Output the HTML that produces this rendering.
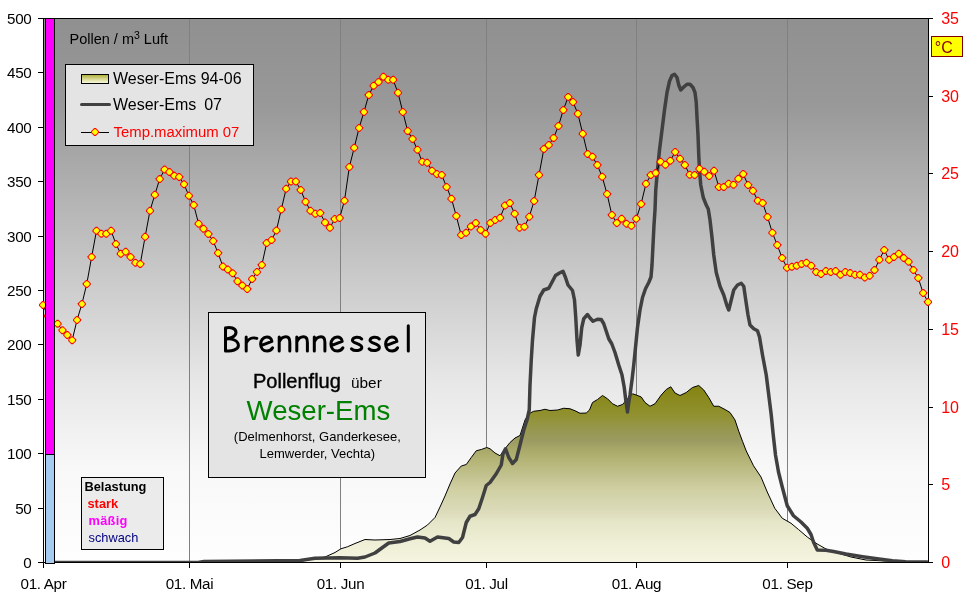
<!DOCTYPE html>
<html><head><meta charset="utf-8"><title>Brennnessel Pollenflug Weser-Ems</title>
<style>
html,body{margin:0;padding:0;background:#fff;}
body{width:968px;height:602px;overflow:hidden;font-family:"Liberation Sans",sans-serif;}
svg{display:block;font-family:"Liberation Sans",sans-serif;will-change:transform;}
</style></head><body>
<svg width="968" height="602" viewBox="0 0 968 602">
<defs>
<linearGradient id="bg" x1="0" y1="18" x2="0" y2="562" gradientUnits="userSpaceOnUse">
<stop offset="0.0000" stop-color="#909090"/>
<stop offset="0.0772" stop-color="#949494"/>
<stop offset="0.1636" stop-color="#999999"/>
<stop offset="0.4908" stop-color="#cccccc"/>
<stop offset="0.6746" stop-color="#e8e8e8"/>
<stop offset="0.8272" stop-color="#f8f8f8"/>
<stop offset="1.0000" stop-color="#fefefe"/>
</linearGradient>
<linearGradient id="ol" x1="0" y1="385" x2="0" y2="562" gradientUnits="userSpaceOnUse">
<stop offset="0.0000" stop-color="#84840f"/>
<stop offset="0.0847" stop-color="#8a8a20"/>
<stop offset="0.1695" stop-color="#919130"/>
<stop offset="0.2260" stop-color="#969646"/>
<stop offset="0.2712" stop-color="#989855"/>
<stop offset="0.3164" stop-color="#9b9b62"/>
<stop offset="0.3672" stop-color="#a9a969"/>
<stop offset="0.4237" stop-color="#b4b476"/>
<stop offset="0.5198" stop-color="#c3c392"/>
<stop offset="0.5932" stop-color="#d0d0a4"/>
<stop offset="0.7006" stop-color="#dadab8"/>
<stop offset="0.7740" stop-color="#e5e5c8"/>
<stop offset="0.9040" stop-color="#f0f0d8"/>
<stop offset="1.0000" stop-color="#f4f4e0"/>
</linearGradient>
<linearGradient id="sw" x1="0" y1="0" x2="0" y2="1">
<stop offset="0" stop-color="#aaaa32"/>
<stop offset="0.5" stop-color="#d8d890"/>
<stop offset="1" stop-color="#fafae6"/>
</linearGradient>
<clipPath id="pc"><rect x="44" y="19" width="884" height="543"/></clipPath>
<g id="m"><polygon points="-0.8,-4 0.8,-4 4,-0.8 4,0.8 0.8,4 -0.8,4 -4,0.8 -4,-0.8" fill="#ff0000"/><polygon points="-0.7,-2.8 0.7,-2.8 2.8,-0.7 2.8,0.7 0.7,2.8 -0.7,2.8 -2.8,0.7 -2.8,-0.7" fill="#ffff00"/></g>
</defs>
<rect x="0" y="0" width="968" height="602" fill="#fff"/>
<!-- plot area -->
<rect x="44" y="19" width="884" height="543" fill="url(#bg)"/>
<g shape-rendering="crispEdges"><line x1="189.5" y1="19" x2="189.5" y2="562" stroke="#808080" stroke-width="1"/><line x1="340.5" y1="19" x2="340.5" y2="562" stroke="#808080" stroke-width="1"/><line x1="486.5" y1="19" x2="486.5" y2="562" stroke="#808080" stroke-width="1"/><line x1="636.5" y1="19" x2="636.5" y2="562" stroke="#808080" stroke-width="1"/><line x1="787.5" y1="19" x2="787.5" y2="562" stroke="#808080" stroke-width="1"/></g>
<!-- area series -->
<polygon points="300.00,561.50 307.50,560.00 325.00,557.00 335.00,552.50 341.00,548.75 347.50,546.75 355.00,543.50 365.00,539.50 375.00,540.00 390.00,539.50 400.00,538.50 410.00,535.50 420.00,530.00 427.50,525.00 435.00,517.50 440.00,507.00 445.00,496.00 450.00,484.00 455.00,473.00 461.25,466.00 466.25,464.50 471.25,457.50 476.25,450.75 481.25,449.50 486.75,447.50 490.00,448.75 495.00,453.00 500.00,455.75 505.00,448.75 510.00,442.50 515.00,438.00 520.00,435.50 525.00,420.00 528.75,413.75 533.75,411.25 540.00,410.50 545.00,409.25 550.00,410.50 557.50,410.00 563.75,408.25 570.00,408.75 575.00,410.75 580.00,413.25 586.25,413.00 589.50,410.00 592.50,402.50 597.50,399.50 602.50,395.50 607.50,398.75 612.50,403.75 617.50,406.25 622.50,404.50 627.50,398.75 632.50,393.75 636.25,395.00 641.25,397.00 645.00,402.50 650.00,406.25 655.00,403.75 661.25,395.00 666.25,389.50 670.75,386.75 675.00,393.00 680.00,395.50 686.25,392.50 692.50,387.50 698.75,385.50 703.75,390.00 708.75,397.50 713.75,406.25 718.75,406.25 725.00,409.50 730.00,412.50 735.00,420.00 738.75,431.25 742.50,441.25 746.25,451.00 753.50,465.75 761.00,477.00 767.25,492.00 774.75,508.25 782.25,518.25 791.00,523.25 798.50,529.50 807.25,537.00 816.00,543.25 826.00,549.00 838.50,553.25 851.00,557.00 866.00,560.00 886.00,561.00 901.00,561.50 928.00,562.00 928,562 300,562" fill="url(#ol)"/>
<polyline points="300.00,561.50 307.50,560.00 325.00,557.00 335.00,552.50 341.00,548.75 347.50,546.75 355.00,543.50 365.00,539.50 375.00,540.00 390.00,539.50 400.00,538.50 410.00,535.50 420.00,530.00 427.50,525.00 435.00,517.50 440.00,507.00 445.00,496.00 450.00,484.00 455.00,473.00 461.25,466.00 466.25,464.50 471.25,457.50 476.25,450.75 481.25,449.50 486.75,447.50 490.00,448.75 495.00,453.00 500.00,455.75 505.00,448.75 510.00,442.50 515.00,438.00 520.00,435.50 525.00,420.00 528.75,413.75 533.75,411.25 540.00,410.50 545.00,409.25 550.00,410.50 557.50,410.00 563.75,408.25 570.00,408.75 575.00,410.75 580.00,413.25 586.25,413.00 589.50,410.00 592.50,402.50 597.50,399.50 602.50,395.50 607.50,398.75 612.50,403.75 617.50,406.25 622.50,404.50 627.50,398.75 632.50,393.75 636.25,395.00 641.25,397.00 645.00,402.50 650.00,406.25 655.00,403.75 661.25,395.00 666.25,389.50 670.75,386.75 675.00,393.00 680.00,395.50 686.25,392.50 692.50,387.50 698.75,385.50 703.75,390.00 708.75,397.50 713.75,406.25 718.75,406.25 725.00,409.50 730.00,412.50 735.00,420.00 738.75,431.25 742.50,441.25 746.25,451.00 753.50,465.75 761.00,477.00 767.25,492.00 774.75,508.25 782.25,518.25 791.00,523.25 798.50,529.50 807.25,537.00 816.00,543.25 826.00,549.00 838.50,553.25 851.00,557.00 866.00,560.00 886.00,561.00 901.00,561.50 928.00,562.00" fill="none" stroke="#000" stroke-width="1"/>
<!-- frame -->
<g shape-rendering="crispEdges">
<line x1="43" y1="18.5" x2="933" y2="18.5" stroke="#000"/>
<line x1="43.5" y1="18" x2="43.5" y2="568" stroke="#000"/>
<line x1="928.5" y1="18" x2="928.5" y2="563" stroke="#000"/>
<line x1="38" y1="562.5" x2="933" y2="562.5" stroke="#000"/>
<line x1="43.5" y1="562" x2="43.5" y2="568" stroke="#000" stroke-width="1"/><line x1="189.5" y1="562" x2="189.5" y2="568" stroke="#000" stroke-width="1"/><line x1="340.5" y1="562" x2="340.5" y2="568" stroke="#000" stroke-width="1"/><line x1="486.5" y1="562" x2="486.5" y2="568" stroke="#000" stroke-width="1"/><line x1="636.5" y1="562" x2="636.5" y2="568" stroke="#000" stroke-width="1"/><line x1="787.5" y1="562" x2="787.5" y2="568" stroke="#000" stroke-width="1"/><line x1="38" y1="562.5" x2="44" y2="562.5" stroke="#000" stroke-width="1"/><line x1="38" y1="508.5" x2="44" y2="508.5" stroke="#000" stroke-width="1"/><line x1="38" y1="453.5" x2="44" y2="453.5" stroke="#000" stroke-width="1"/><line x1="38" y1="399.5" x2="44" y2="399.5" stroke="#000" stroke-width="1"/><line x1="38" y1="344.5" x2="44" y2="344.5" stroke="#000" stroke-width="1"/><line x1="38" y1="290.5" x2="44" y2="290.5" stroke="#000" stroke-width="1"/><line x1="38" y1="236.5" x2="44" y2="236.5" stroke="#000" stroke-width="1"/><line x1="38" y1="181.5" x2="44" y2="181.5" stroke="#000" stroke-width="1"/><line x1="38" y1="127.5" x2="44" y2="127.5" stroke="#000" stroke-width="1"/><line x1="38" y1="72.5" x2="44" y2="72.5" stroke="#000" stroke-width="1"/><line x1="38" y1="18.5" x2="44" y2="18.5" stroke="#000" stroke-width="1"/><line x1="928" y1="562.5" x2="933" y2="562.5" stroke="#000" stroke-width="1"/><line x1="928" y1="484.5" x2="933" y2="484.5" stroke="#000" stroke-width="1"/><line x1="928" y1="407.5" x2="933" y2="407.5" stroke="#000" stroke-width="1"/><line x1="928" y1="329.5" x2="933" y2="329.5" stroke="#000" stroke-width="1"/><line x1="928" y1="251.5" x2="933" y2="251.5" stroke="#000" stroke-width="1"/><line x1="928" y1="173.5" x2="933" y2="173.5" stroke="#000" stroke-width="1"/><line x1="928" y1="96.5" x2="933" y2="96.5" stroke="#000" stroke-width="1"/><line x1="928" y1="18.5" x2="933" y2="18.5" stroke="#000" stroke-width="1"/>
</g>
<!-- dark line -->
<polyline clip-path="url(#pc)" points="55.00,562.40 198.00,562.40 204.00,561.50 300.00,560.50 315.00,558.25 340.00,557.75 357.50,558.25 365.00,557.00 375.00,553.00 382.50,547.50 388.75,543.00 400.00,541.50 410.00,538.75 417.50,537.00 425.00,538.00 430.00,541.25 437.50,537.00 448.75,538.50 453.75,542.00 458.75,542.50 462.50,537.50 466.25,522.50 470.00,516.25 475.00,514.50 478.75,508.75 482.50,497.50 486.25,485.50 490.00,482.50 496.25,473.75 501.25,465.00 503.00,453.75 505.50,448.75 508.75,457.50 512.50,463.50 516.25,459.50 520.00,445.00 523.75,430.00 527.00,420.00 529.25,410.00 530.00,385.00 531.25,360.00 532.50,340.00 534.50,317.50 536.25,308.75 540.00,296.25 543.75,290.00 548.75,288.25 552.50,281.25 555.50,275.50 559.50,273.00 563.00,271.25 565.50,277.50 568.00,285.00 572.50,290.50 574.50,300.00 575.75,317.50 577.00,340.00 578.25,355.00 580.00,345.00 581.75,327.50 583.75,318.75 587.50,314.50 590.00,318.00 593.00,321.25 597.50,319.25 601.25,319.50 603.75,323.75 606.25,331.25 608.75,338.75 611.75,343.75 615.00,352.50 618.75,365.00 622.00,375.00 624.25,387.50 625.75,400.00 627.50,412.00 628.50,404.00 630.00,395.00 632.00,380.00 633.75,365.00 635.75,345.00 637.50,327.50 640.00,310.00 642.50,297.50 645.50,288.75 648.75,282.50 651.00,277.00 652.00,265.00 653.00,245.00 654.00,225.00 655.00,210.00 655.75,190.00 657.50,170.00 659.50,150.00 662.00,130.00 664.50,110.00 667.00,92.50 669.50,81.25 672.00,75.50 674.50,74.25 677.00,77.50 678.75,85.00 680.75,90.00 683.75,87.00 687.00,84.25 690.00,84.25 693.00,87.50 695.00,92.50 696.25,102.50 697.00,117.50 698.00,135.00 698.75,155.00 699.50,170.00 700.75,185.00 703.25,197.50 706.25,205.00 708.25,209.00 710.00,220.00 712.00,237.50 713.75,255.00 716.25,272.50 720.00,286.25 723.75,295.00 726.75,305.00 728.75,310.00 731.25,300.00 733.75,290.00 737.50,285.00 741.25,283.25 743.75,286.25 745.75,300.00 748.00,315.00 750.00,325.00 753.75,328.75 757.50,330.75 759.50,337.00 762.50,355.00 766.25,375.00 768.75,395.00 771.25,415.00 773.25,435.00 775.50,455.00 778.50,472.00 782.25,487.00 787.25,505.75 793.50,515.75 801.00,522.00 807.25,528.25 811.00,534.50 813.50,542.00 817.25,550.00 826.00,550.25 833.50,551.50 846.00,554.00 862.60,556.70 879.00,559.10 892.40,560.80 905.60,561.70 927.00,562.00" fill="none" stroke="#404040" stroke-width="3.5" stroke-linejoin="round" stroke-linecap="round"/>
<!-- temperature -->
<polyline points="43.00,305.00 47.86,316.00 52.73,320.00 57.59,323.75 62.45,330.25 67.31,335.00 72.18,340.25 77.04,320.00 81.90,304.00 86.76,284.00 91.63,257.00 96.49,230.75 101.35,233.75 106.21,233.75 111.08,230.75 115.94,244.00 120.80,253.75 125.66,251.75 130.53,257.00 135.39,262.75 140.25,264.00 145.11,236.75 149.98,210.75 154.84,194.75 159.70,179.00 164.56,169.50 169.43,172.00 174.29,175.75 179.15,177.00 184.02,184.25 188.88,195.75 193.74,205.00 198.60,223.75 203.47,228.75 208.33,234.00 213.19,241.00 218.05,253.00 222.92,266.50 227.78,269.50 232.64,273.25 237.50,281.25 242.37,285.50 247.23,289.00 252.09,279.00 256.95,272.00 261.82,265.00 266.68,243.00 271.54,240.00 276.40,230.50 281.27,209.50 286.13,188.75 290.99,181.50 295.86,181.50 300.72,190.00 305.58,201.75 310.44,210.75 315.31,213.75 320.17,213.00 325.03,222.50 329.89,227.75 334.76,219.00 339.62,218.00 344.48,200.75 349.34,167.00 354.21,147.75 359.07,128.00 363.93,112.00 368.79,95.00 373.66,85.75 378.52,82.00 383.38,76.75 388.24,79.75 393.11,79.75 397.97,92.75 402.83,112.00 407.69,131.00 412.56,139.00 417.42,149.75 422.28,161.75 427.15,162.75 432.01,170.75 436.87,174.00 441.73,175.00 446.60,187.00 451.46,198.75 456.32,216.00 461.18,235.00 466.05,232.75 470.91,226.50 475.77,223.00 480.63,230.00 485.50,233.75 490.36,223.00 495.22,220.00 500.08,217.75 504.95,205.50 509.81,203.00 514.67,213.75 519.53,227.75 524.40,226.75 529.26,216.75 534.12,201.00 538.99,175.00 543.85,149.00 548.71,145.00 553.57,138.00 558.44,126.00 563.30,110.00 568.16,97.00 573.02,102.00 577.89,113.75 582.75,133.75 587.61,154.00 592.47,156.75 597.34,165.00 602.20,176.75 607.06,194.00 611.92,215.00 616.79,223.00 621.65,218.75 626.51,223.75 631.37,225.75 636.24,218.75 641.10,204.00 645.96,183.75 650.82,175.00 655.69,173.00 660.55,161.75 665.41,164.75 670.28,160.75 675.14,152.00 680.00,158.75 684.86,165.00 689.73,174.75 694.59,175.00 699.45,168.75 704.31,171.75 709.18,176.00 714.04,170.75 718.90,187.00 723.76,187.00 728.63,183.75 733.49,184.75 738.35,178.75 743.21,174.00 748.08,185.00 752.94,190.75 757.80,200.75 762.66,203.00 767.53,217.00 772.39,232.75 777.25,245.00 782.12,258.00 786.98,267.75 791.84,266.75 796.70,265.75 801.57,264.00 806.43,262.75 811.29,265.75 816.15,272.00 821.02,274.00 825.88,271.00 830.74,272.00 835.60,271.00 840.47,274.75 845.33,272.00 850.19,273.00 855.05,274.75 859.92,274.75 864.78,277.50 869.64,275.75 874.50,270.00 879.37,259.75 884.23,250.00 889.09,259.75 893.95,257.00 898.82,253.75 903.68,258.00 908.54,261.75 913.41,270.00 918.27,278.00 923.13,293.00 927.99,302.00" fill="none" stroke="#000" stroke-width="1"/>
<use href="#m" x="43.00" y="305.00"/><use href="#m" x="47.86" y="316.00"/><use href="#m" x="57.59" y="323.75"/><use href="#m" x="62.45" y="330.25"/><use href="#m" x="67.31" y="335.00"/><use href="#m" x="72.18" y="340.25"/><use href="#m" x="77.04" y="320.00"/><use href="#m" x="81.90" y="304.00"/><use href="#m" x="86.76" y="284.00"/><use href="#m" x="91.63" y="257.00"/><use href="#m" x="96.49" y="230.75"/><use href="#m" x="101.35" y="233.75"/><use href="#m" x="106.21" y="233.75"/><use href="#m" x="111.08" y="230.75"/><use href="#m" x="115.94" y="244.00"/><use href="#m" x="120.80" y="253.75"/><use href="#m" x="125.66" y="251.75"/><use href="#m" x="130.53" y="257.00"/><use href="#m" x="135.39" y="262.75"/><use href="#m" x="140.25" y="264.00"/><use href="#m" x="145.11" y="236.75"/><use href="#m" x="149.98" y="210.75"/><use href="#m" x="154.84" y="194.75"/><use href="#m" x="159.70" y="179.00"/><use href="#m" x="164.56" y="169.50"/><use href="#m" x="169.43" y="172.00"/><use href="#m" x="174.29" y="175.75"/><use href="#m" x="179.15" y="177.00"/><use href="#m" x="184.02" y="184.25"/><use href="#m" x="188.88" y="195.75"/><use href="#m" x="193.74" y="205.00"/><use href="#m" x="198.60" y="223.75"/><use href="#m" x="203.47" y="228.75"/><use href="#m" x="208.33" y="234.00"/><use href="#m" x="213.19" y="241.00"/><use href="#m" x="218.05" y="253.00"/><use href="#m" x="222.92" y="266.50"/><use href="#m" x="227.78" y="269.50"/><use href="#m" x="232.64" y="273.25"/><use href="#m" x="237.50" y="281.25"/><use href="#m" x="242.37" y="285.50"/><use href="#m" x="247.23" y="289.00"/><use href="#m" x="252.09" y="279.00"/><use href="#m" x="256.95" y="272.00"/><use href="#m" x="261.82" y="265.00"/><use href="#m" x="266.68" y="243.00"/><use href="#m" x="271.54" y="240.00"/><use href="#m" x="276.40" y="230.50"/><use href="#m" x="281.27" y="209.50"/><use href="#m" x="286.13" y="188.75"/><use href="#m" x="290.99" y="181.50"/><use href="#m" x="295.86" y="181.50"/><use href="#m" x="300.72" y="190.00"/><use href="#m" x="305.58" y="201.75"/><use href="#m" x="310.44" y="210.75"/><use href="#m" x="315.31" y="213.75"/><use href="#m" x="320.17" y="213.00"/><use href="#m" x="325.03" y="222.50"/><use href="#m" x="329.89" y="227.75"/><use href="#m" x="334.76" y="219.00"/><use href="#m" x="339.62" y="218.00"/><use href="#m" x="344.48" y="200.75"/><use href="#m" x="349.34" y="167.00"/><use href="#m" x="354.21" y="147.75"/><use href="#m" x="359.07" y="128.00"/><use href="#m" x="363.93" y="112.00"/><use href="#m" x="368.79" y="95.00"/><use href="#m" x="373.66" y="85.75"/><use href="#m" x="378.52" y="82.00"/><use href="#m" x="383.38" y="76.75"/><use href="#m" x="388.24" y="79.75"/><use href="#m" x="393.11" y="79.75"/><use href="#m" x="397.97" y="92.75"/><use href="#m" x="402.83" y="112.00"/><use href="#m" x="407.69" y="131.00"/><use href="#m" x="412.56" y="139.00"/><use href="#m" x="417.42" y="149.75"/><use href="#m" x="422.28" y="161.75"/><use href="#m" x="427.15" y="162.75"/><use href="#m" x="432.01" y="170.75"/><use href="#m" x="436.87" y="174.00"/><use href="#m" x="441.73" y="175.00"/><use href="#m" x="446.60" y="187.00"/><use href="#m" x="451.46" y="198.75"/><use href="#m" x="456.32" y="216.00"/><use href="#m" x="461.18" y="235.00"/><use href="#m" x="466.05" y="232.75"/><use href="#m" x="470.91" y="226.50"/><use href="#m" x="475.77" y="223.00"/><use href="#m" x="480.63" y="230.00"/><use href="#m" x="485.50" y="233.75"/><use href="#m" x="490.36" y="223.00"/><use href="#m" x="495.22" y="220.00"/><use href="#m" x="500.08" y="217.75"/><use href="#m" x="504.95" y="205.50"/><use href="#m" x="509.81" y="203.00"/><use href="#m" x="514.67" y="213.75"/><use href="#m" x="519.53" y="227.75"/><use href="#m" x="524.40" y="226.75"/><use href="#m" x="529.26" y="216.75"/><use href="#m" x="534.12" y="201.00"/><use href="#m" x="538.99" y="175.00"/><use href="#m" x="543.85" y="149.00"/><use href="#m" x="548.71" y="145.00"/><use href="#m" x="553.57" y="138.00"/><use href="#m" x="558.44" y="126.00"/><use href="#m" x="563.30" y="110.00"/><use href="#m" x="568.16" y="97.00"/><use href="#m" x="573.02" y="102.00"/><use href="#m" x="577.89" y="113.75"/><use href="#m" x="582.75" y="133.75"/><use href="#m" x="587.61" y="154.00"/><use href="#m" x="592.47" y="156.75"/><use href="#m" x="597.34" y="165.00"/><use href="#m" x="602.20" y="176.75"/><use href="#m" x="607.06" y="194.00"/><use href="#m" x="611.92" y="215.00"/><use href="#m" x="616.79" y="223.00"/><use href="#m" x="621.65" y="218.75"/><use href="#m" x="626.51" y="223.75"/><use href="#m" x="631.37" y="225.75"/><use href="#m" x="636.24" y="218.75"/><use href="#m" x="641.10" y="204.00"/><use href="#m" x="645.96" y="183.75"/><use href="#m" x="650.82" y="175.00"/><use href="#m" x="655.69" y="173.00"/><use href="#m" x="660.55" y="161.75"/><use href="#m" x="665.41" y="164.75"/><use href="#m" x="670.28" y="160.75"/><use href="#m" x="675.14" y="152.00"/><use href="#m" x="680.00" y="158.75"/><use href="#m" x="684.86" y="165.00"/><use href="#m" x="689.73" y="174.75"/><use href="#m" x="694.59" y="175.00"/><use href="#m" x="699.45" y="168.75"/><use href="#m" x="704.31" y="171.75"/><use href="#m" x="709.18" y="176.00"/><use href="#m" x="714.04" y="170.75"/><use href="#m" x="718.90" y="187.00"/><use href="#m" x="723.76" y="187.00"/><use href="#m" x="728.63" y="183.75"/><use href="#m" x="733.49" y="184.75"/><use href="#m" x="738.35" y="178.75"/><use href="#m" x="743.21" y="174.00"/><use href="#m" x="748.08" y="185.00"/><use href="#m" x="752.94" y="190.75"/><use href="#m" x="757.80" y="200.75"/><use href="#m" x="762.66" y="203.00"/><use href="#m" x="767.53" y="217.00"/><use href="#m" x="772.39" y="232.75"/><use href="#m" x="777.25" y="245.00"/><use href="#m" x="782.12" y="258.00"/><use href="#m" x="786.98" y="267.75"/><use href="#m" x="791.84" y="266.75"/><use href="#m" x="796.70" y="265.75"/><use href="#m" x="801.57" y="264.00"/><use href="#m" x="806.43" y="262.75"/><use href="#m" x="811.29" y="265.75"/><use href="#m" x="816.15" y="272.00"/><use href="#m" x="821.02" y="274.00"/><use href="#m" x="825.88" y="271.00"/><use href="#m" x="830.74" y="272.00"/><use href="#m" x="835.60" y="271.00"/><use href="#m" x="840.47" y="274.75"/><use href="#m" x="845.33" y="272.00"/><use href="#m" x="850.19" y="273.00"/><use href="#m" x="855.05" y="274.75"/><use href="#m" x="859.92" y="274.75"/><use href="#m" x="864.78" y="277.50"/><use href="#m" x="869.64" y="275.75"/><use href="#m" x="874.50" y="270.00"/><use href="#m" x="879.37" y="259.75"/><use href="#m" x="884.23" y="250.00"/><use href="#m" x="889.09" y="259.75"/><use href="#m" x="893.95" y="257.00"/><use href="#m" x="898.82" y="253.75"/><use href="#m" x="903.68" y="258.00"/><use href="#m" x="908.54" y="261.75"/><use href="#m" x="913.41" y="270.00"/><use href="#m" x="918.27" y="278.00"/><use href="#m" x="923.13" y="293.00"/><use href="#m" x="927.99" y="302.00"/>
<!-- Belastung bar -->
<g shape-rendering="crispEdges">
<rect x="45" y="18" width="10" height="546" fill="#000"/>
<rect x="46" y="19" width="8" height="435" fill="#ff00ff"/>
<rect x="46" y="455" width="8" height="108" fill="#a6caf0"/>
</g>
<!-- axis labels -->
<g font-size="15.2px" letter-spacing="-0.3px" fill="#000"><text x="31.5" y="567.9" text-anchor="end">0</text><text x="31.5" y="513.9" text-anchor="end">50</text><text x="31.5" y="458.9" text-anchor="end">100</text><text x="31.5" y="404.9" text-anchor="end">150</text><text x="31.5" y="349.9" text-anchor="end">200</text><text x="31.5" y="295.9" text-anchor="end">250</text><text x="31.5" y="241.9" text-anchor="end">300</text><text x="31.5" y="186.9" text-anchor="end">350</text><text x="31.5" y="132.9" text-anchor="end">400</text><text x="31.5" y="77.9" text-anchor="end">450</text><text x="31.5" y="23.9" text-anchor="end">500</text><text x="43.5" y="589" text-anchor="middle">01. Apr</text><text x="189.5" y="589" text-anchor="middle">01. Mai</text><text x="340.5" y="589" text-anchor="middle">01. Jun</text><text x="486.5" y="589" text-anchor="middle">01. Jul</text><text x="636.5" y="589" text-anchor="middle">01. Aug</text><text x="787.5" y="589" text-anchor="middle">01. Sep</text></g>
<g font-size="16px" fill="#ff0000"><text x="941.2" y="567.8">0</text><text x="941.2" y="489.8">5</text><text x="941.2" y="412.8">10</text><text x="941.2" y="334.8">15</text><text x="941.2" y="256.8">20</text><text x="941.2" y="178.8">25</text><text x="941.2" y="101.8">30</text><text x="941.2" y="23.8">35</text></g>
<!-- deg C box -->
<rect x="931.5" y="36.5" width="31" height="20" fill="#ffff00" stroke="#800000" stroke-width="1" shape-rendering="crispEdges"/>
<text x="943.8" y="52.8" font-size="16px" fill="#800000" text-anchor="middle">°C</text>
<!-- y title -->
<text x="69.5" y="44.1" font-size="14.5px" fill="#000">Pollen / m<tspan font-size="10.5px" dy="-5.5">3</tspan><tspan dy="5.5"> Luft</tspan></text>
<!-- legend -->
<rect x="65.5" y="64.5" width="188" height="81" fill="#e4e4e4" stroke="#000" stroke-width="1" shape-rendering="crispEdges"/>
<rect x="81.5" y="74.5" width="27" height="9" fill="url(#sw)" stroke="#000" stroke-width="1" shape-rendering="crispEdges"/>
<text x="113" y="83.8" font-size="16px" fill="#000">Weser-Ems 94-06</text>
<line x1="81.5" y1="104.5" x2="109.5" y2="104.5" stroke="#404040" stroke-width="3" stroke-linecap="round"/>
<text x="113" y="110" font-size="16px" fill="#000" xml:space="preserve" style="white-space:pre" word-spacing="-0.5px">Weser-Ems  07</text>
<line x1="81" y1="132" x2="109" y2="132" stroke="#000" stroke-width="1" shape-rendering="crispEdges"/>
<use href="#m" x="95" y="132"/>
<text x="113.5" y="137" font-size="14.9px" fill="#ff0000">Temp.maximum 07</text>
<!-- Belastung legend -->
<rect x="81.5" y="477.5" width="82" height="72" fill="#ebebeb" stroke="#000" stroke-width="1" shape-rendering="crispEdges"/>
<g font-size="12.8px">
<text x="84.5" y="491.3" font-weight="bold" fill="#000">Belastung</text>
<text x="87.5" y="507.6" font-weight="bold" fill="#ff0000">stark</text>
<text x="88.5" y="524.6" font-weight="bold" fill="#ff00ff" letter-spacing="0.3px">mäßig</text>
<text x="88.5" y="541.6" fill="#000080">schwach</text>
</g>
<!-- title box -->
<rect x="208.5" y="312.5" width="217" height="165" fill="#e4e4e4" stroke="#000" stroke-width="1" shape-rendering="crispEdges"/>
<g fill="none" stroke="#000" stroke-width="3" stroke-linecap="round" stroke-linejoin="round"><path transform="translate(225.5,351)" d="M0,-23.2 L0,0 M0,-22.8 C4,-24.5 10.5,-23 10.5,-18.5 C10.5,-14.5 4.5,-12.5 0.7,-12 C6,-13 12.9,-10.5 12.9,-5.5 C12.9,-1.2 6,0.5 0.2,-0.2"/><path transform="translate(246.2,351)" d="M0,-14 L0,0 M0,-8 C1.8,-11.5 5.5,-14.3 10.6,-12.6"/><path transform="translate(260.6,351)" d="M0.9,-5.6 L11.3,-9.6 C10.8,-12.6 8.6,-14 6.2,-14 C2.5,-14 0,-10.5 0,-7 C0,-3 2.5,0 6.5,0 C9,0 11,-1.3 12,-3.2"/><path transform="translate(279.2,351)" d="M0,-14 L0,0 M0,-9 C1.5,-12.8 4.8,-14.2 6.8,-14.2 C9.8,-14.2 10.6,-11.5 10.6,-8.5 L10.6,0"/><path transform="translate(296.8,351)" d="M0,-14 L0,0 M0,-9 C1.5,-12.8 4.8,-14.2 6.8,-14.2 C9.8,-14.2 10.6,-11.5 10.6,-8.5 L10.6,0"/><path transform="translate(314.3,351)" d="M0,-14 L0,0 M0,-9 C1.5,-12.8 4.8,-14.2 6.8,-14.2 C9.8,-14.2 10.6,-11.5 10.6,-8.5 L10.6,0"/><path transform="translate(330.9,351)" d="M0.9,-5.6 L11.3,-9.6 C10.8,-12.6 8.6,-14 6.2,-14 C2.5,-14 0,-10.5 0,-7 C0,-3 2.5,0 6.5,0 C9,0 11,-1.3 12,-3.2"/><path transform="translate(351.5,351)" d="M10.2,-12 C8,-14.6 1.6,-14.5 0.9,-10.8 C0.4,-7.5 9.7,-7.8 10.3,-3.8 C10.6,-0.3 3.2,0.9 0,-2.2"/><path transform="translate(369.1,351)" d="M10.2,-12 C8,-14.6 1.6,-14.5 0.9,-10.8 C0.4,-7.5 9.7,-7.8 10.3,-3.8 C10.6,-0.3 3.2,0.9 0,-2.2"/><path transform="translate(385.6,351)" d="M0.9,-5.6 L11.3,-9.6 C10.8,-12.6 8.6,-14 6.2,-14 C2.5,-14 0,-10.5 0,-7 C0,-3 2.5,0 6.5,0 C9,0 11,-1.3 12,-3.2"/><path transform="translate(408.3,351)" d="M0,-25.3 L0,0"/></g>
<text x="253" y="387.5" font-size="20px" fill="#000" stroke="#000" stroke-width="0.4">Pollenflug</text>
<text x="351" y="387.5" font-size="15.4px" fill="#000">über</text>
<text x="318.4" y="420" font-size="27.6px" fill="#008000" text-anchor="middle">Weser-Ems</text>
<text x="317.3" y="441" font-size="13px" fill="#000" text-anchor="middle">(Delmenhorst, Ganderkesee,</text>
<text x="317.3" y="457.6" font-size="13px" fill="#000" text-anchor="middle">Lemwerder, Vechta)</text>
</svg>
</body></html>
